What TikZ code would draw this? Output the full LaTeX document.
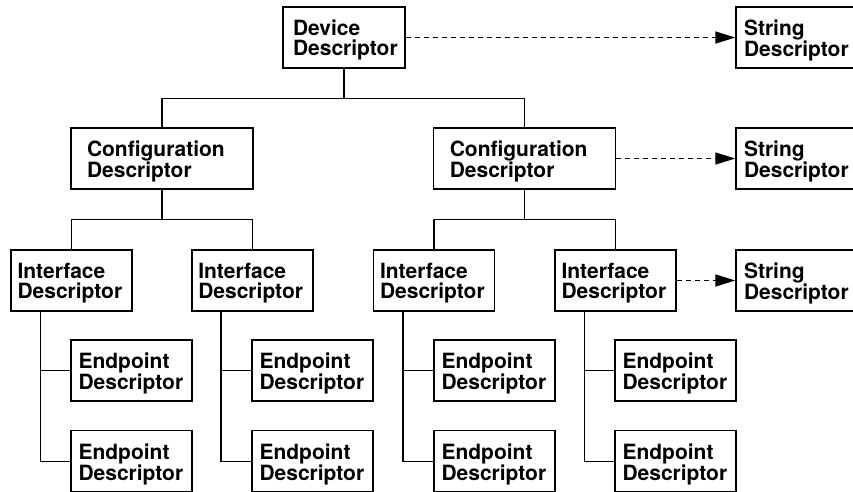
\documentclass[tikz,border=0pt]{standalone}
\usepackage{fontspec}
\setmainfont{TeX Gyre Heros}
\usetikzlibrary{arrows.meta}
% two-line label with a strut lifting the first line's height
\newcommand\twolines[2]{\rule{0pt}{21.5pt}#1\\#2}
\begin{document}
\begin{tikzpicture}[x=1pt, y=-1pt, line width=1.4pt,
  desc/.style 2 args={draw, rectangle, minimum height=61pt, inner ysep=0pt,
    inner xsep=#1, text width=#2, align=left,
    font=\fontsize{21}{20}\selectfont\bfseries},
  devbox/.style={desc={10pt}{102pt}},
  strbox/.style={desc={8pt}{106pt}},
  cfgbox/.style={desc={16pt}{150pt}},
  ifbox/.style={desc={6.5pt}{108pt}},
  epbox/.style={desc={7.5pt}{106pt}},
  link/.style={line width=1.4pt},
  strlink/.style={line width=1.4pt, dash pattern=on 5pt off 4pt,
    -{Triangle[length=20pt,width=12pt]}}]
\useasboundingbox (0,0) rectangle (853,491);

% descriptor boxes
\node[devbox] (dev) at (344,37.5) {\twolines{Device}{Descriptor}};
\node[strbox] (str1) at (797,37.5) {\twolines{String}{Descriptor}};

\node[cfgbox] (cfgL) at (162,158.5) {\twolines{Configuration}{Descriptor}};
\node[cfgbox] (cfgR) at (524.75,158.5) {\twolines{Configuration}{Descriptor}};
\node[strbox] (str2) at (797,158.5) {\twolines{String}{Descriptor}};

\node[ifbox] (ifA) at (71.5,280.5) {\twolines{Interface}{Descriptor}};
\node[ifbox] (ifB) at (252.3,280.5) {\twolines{Interface}{Descriptor}};
\node[ifbox] (ifC) at (434,280.5) {\twolines{Interface}{Descriptor}};
\node[ifbox] (ifD) at (615.5,280.5) {\twolines{Interface}{Descriptor}};
\node[strbox] (str3) at (797,280.5) {\twolines{String}{Descriptor}};

\node[epbox] (epA1) at (131.5,370.5) {\twolines{Endpoint}{Descriptor}};
\node[epbox] (epA2) at (131.5,461.2) {\twolines{Endpoint}{Descriptor}};
\node[epbox] (epB1) at (312.5,370.5) {\twolines{Endpoint}{Descriptor}};
\node[epbox] (epB2) at (312.5,461.2) {\twolines{Endpoint}{Descriptor}};
\node[epbox] (epC1) at (494.5,370.5) {\twolines{Endpoint}{Descriptor}};
\node[epbox] (epC2) at (494.5,461.2) {\twolines{Endpoint}{Descriptor}};
\node[epbox] (epD1) at (675.5,370.5) {\twolines{Endpoint}{Descriptor}};
\node[epbox] (epD2) at (675.5,461.2) {\twolines{Endpoint}{Descriptor}};

% device -> configurations
\coordinate (busDev) at (344,98.5);
\draw[link] (dev.south) -- (busDev);
\draw[link] (cfgL.north) |- (busDev) -| (cfgR.north);

% configurations -> interfaces
\coordinate (busL) at (162,219.5);
\coordinate (busR) at (524.75,219.5);
\draw[link] (cfgL.south) -- (busL);
\draw[link] (ifA.north) |- (busL) -| (ifB.north);
\draw[link] (cfgR.south) -- (busR);
\draw[link] (ifC.north) |- (busR) -| (ifD.north);

% interfaces -> endpoints
\foreach \i in {A,B,C,D}{
  \draw[link] ([xshift=30pt]if\i.south west) |- (ep\i2.west);
  \draw[link] ([xshift=30pt]if\i.south west) |- (ep\i1.west);
}

% string descriptor references
\draw[strlink] (dev.east) -- (str1.west);
\draw[strlink] (cfgR.east) -- (str2.west);
\draw[strlink] (ifD.east) -- (str3.west);
\end{tikzpicture}
\end{document}
